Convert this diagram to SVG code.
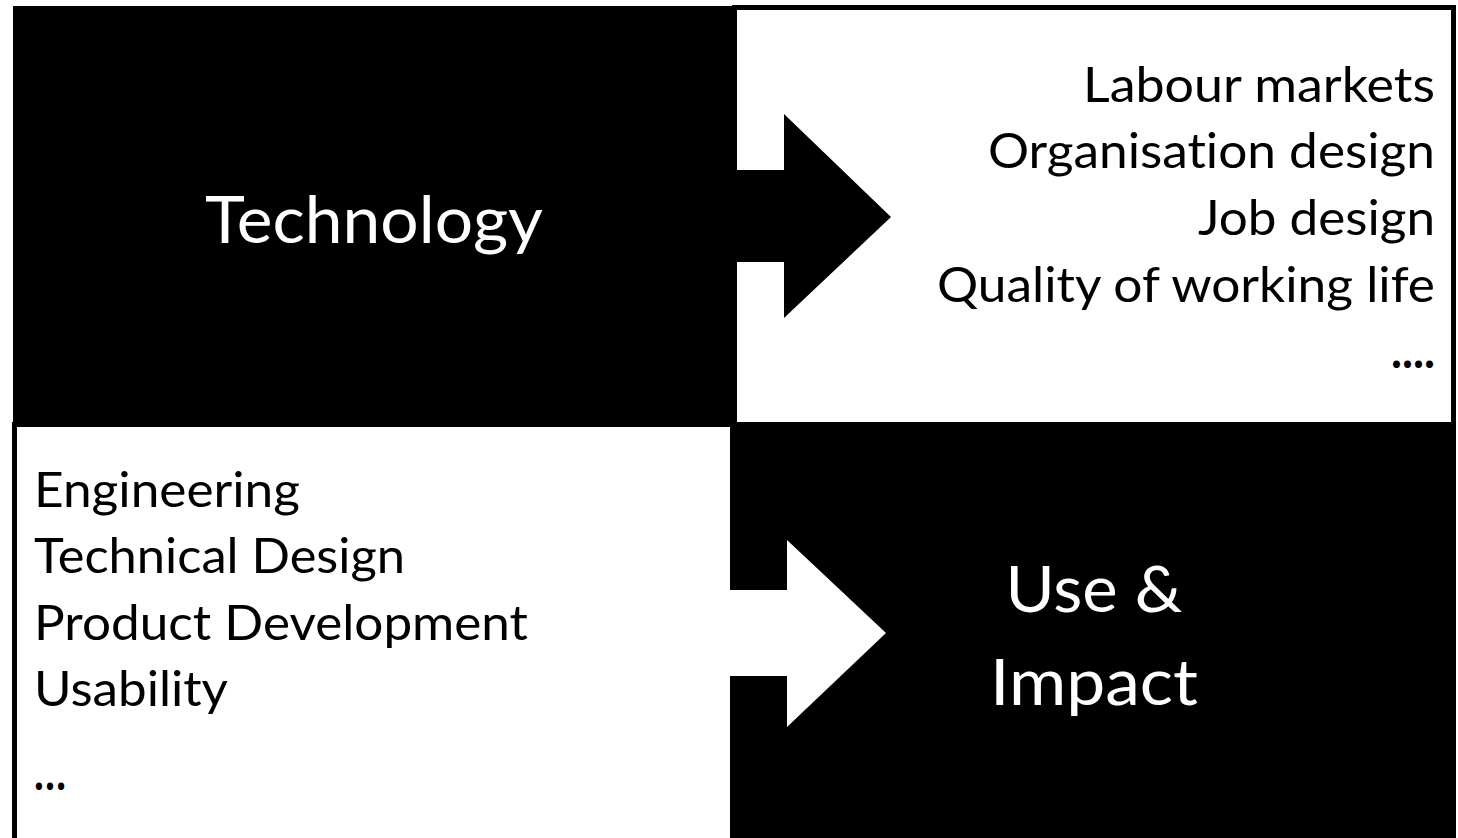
<svg xmlns="http://www.w3.org/2000/svg" width="1458" height="838" viewBox="0 0 1458 838">
  <style>
    .t { font-family: Lato, "Open Sans", "Liberation Sans", sans-serif; font-variant-ligatures: none; }
    .w { fill: #ffffff; }
    .k { fill: #000000; }
  </style>
  <rect x="0" y="0" width="1458" height="838" fill="#ffffff"/>

  <!-- Technology quadrant -->
  <g id="technology">
    <rect class="k" x="13" y="6" width="724" height="421"/>
    <text class="t w" x="374" y="243" font-size="66" text-anchor="middle" textLength="338" lengthAdjust="spacingAndGlyphs">Technology</text>
  </g>

  <!-- Impact areas quadrant -->
  <g id="impact-areas">
    <rect class="k" x="732" y="5" width="724" height="417"/>
    <rect class="w" x="737" y="10" width="714" height="412"/>
    <g class="t k" font-size="49" text-anchor="end">
      <text x="1435" y="102" textLength="352" lengthAdjust="spacingAndGlyphs">Labour markets</text>
      <text x="1435" y="168" textLength="447" lengthAdjust="spacingAndGlyphs">Organisation design</text>
      <text x="1435" y="235" textLength="237" lengthAdjust="spacingAndGlyphs">Job design</text>
      <text x="1435" y="302" textLength="498" lengthAdjust="spacingAndGlyphs">Quality of working life</text>
      <text x="1435" y="368" font-weight="bold" textLength="44" lengthAdjust="spacingAndGlyphs">....</text>
    </g>
  </g>

  <!-- Design disciplines quadrant -->
  <g id="disciplines">
    <rect class="k" x="12" y="422" width="5" height="416"/>
    <rect class="w" x="17" y="427" width="713" height="411"/>
    <g class="t k" font-size="49">
      <text x="34" y="507" textLength="266" lengthAdjust="spacingAndGlyphs">Engineering</text>
      <text x="34" y="573" textLength="371" lengthAdjust="spacingAndGlyphs">Technical Design</text>
      <text x="34" y="640" textLength="494" lengthAdjust="spacingAndGlyphs">Product Development</text>
      <text x="34" y="706" textLength="194" lengthAdjust="spacingAndGlyphs">Usability</text>
      <text x="34" y="790" font-weight="bold" textLength="32" lengthAdjust="spacingAndGlyphs">…</text>
    </g>
  </g>

  <!-- Use & Impact quadrant -->
  <g id="use-impact">
    <rect class="k" x="730" y="422" width="726" height="416"/>
    <g class="t w" font-size="64" text-anchor="middle">
      <text x="1094" y="612" textLength="177" lengthAdjust="spacingAndGlyphs">Use &amp;</text>
      <text x="1094" y="705" textLength="208" lengthAdjust="spacingAndGlyphs">Impact</text>
    </g>
  </g>

  <!-- Connectors -->
  <g id="connectors">
    <polygon class="k" points="736,170 784,170 784,114 891,217 784,318 784,262 736,262"/>
    <polygon class="w" points="729,590 787,590 787,540 886,633 787,727 787,676 729,676"/>
  </g>
</svg>
